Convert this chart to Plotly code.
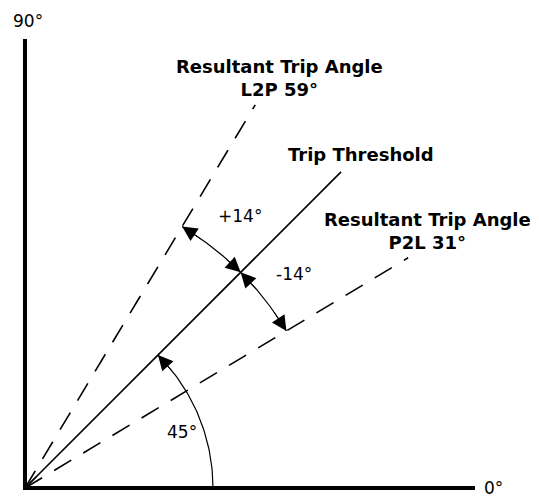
import numpy as np
import plotly.graph_objects as go

# ---- data ----
line_names = ["Resultant Trip Angle<br>L2P 59°", "Trip Threshold", "Resultant Trip Angle<br>P2L 31°"]
line_angles = [59, 45, 31]
threshold_angle = 45
offsets = [14, -14]
offset_labels = ["+14°", "-14°"]
base_label = "45°"
axis_tick_labels = ["0°", "90°"]

# ---- layout constants (pixel-like units, origin at axes corner) ----
R = 447
AXIS_LEN_X = 450
AXIS_LEN_Y = 449
R_BASE_ARC = 188
R_OFF_ARC = 305
FONT = "DejaVu Sans"
PAGE_OFF = 8  # browser body margin
FIG_W = 539 - PAGE_OFF
FIG_H = 498 - PAGE_OFF


def pol(r, deg):
    t = np.deg2rad(deg)
    return r * np.cos(t), r * np.sin(t)


fig = go.Figure()

# axes (thick L)
fig.add_trace(go.Scatter(x=[0, 0, AXIS_LEN_X], y=[AXIS_LEN_Y, 0, 0], mode="lines",
                         line=dict(color="black", width=4), hoverinfo="skip"))

# angle lines
for ang in line_angles:
    x1, y1 = pol(R, ang)
    dash = "solid" if ang == threshold_angle else "20px,14px"
    fig.add_trace(go.Scatter(x=[0, x1], y=[0, y1], mode="lines",
                             line=dict(color="black", width=1.6, dash=dash), hoverinfo="skip"))

annotations = []


def arrow(r, tip_deg, tail_deg):
    x, y = pol(r, tip_deg)
    ax, ay = pol(r, tail_deg)
    annotations.append(dict(x=x, y=y, ax=ax, ay=ay, xref="x", yref="y", axref="x", ayref="y",
                            text="", showarrow=True, arrowhead=2, arrowsize=3, arrowwidth=1,
                            arrowcolor="black", standoff=0, startstandoff=0))


# base 45° arc
th = np.linspace(0, threshold_angle, 60)
bx, by = pol(R_BASE_ARC, th)
fig.add_trace(go.Scatter(x=bx, y=by, mode="lines", line=dict(color="black", width=1.2), hoverinfo="skip"))
arrow(R_BASE_ARC, threshold_angle, threshold_angle - 7)

# offset arcs (double-headed)
for off in offsets:
    a0, a1 = threshold_angle, threshold_angle + off
    th = np.linspace(a0, a1, 60)
    ox, oy = pol(R_OFF_ARC, th)
    fig.add_trace(go.Scatter(x=ox, y=oy, mode="lines", line=dict(color="black", width=1.2), hoverinfo="skip"))
    s = np.sign(off)
    arrow(R_OFF_ARC, a1, a1 - s * 4.5)
    arrow(R_OFF_ARC, a0, a0 + s * 4.5)

# small arrowhead at origin on threshold line
ox, oy = pol(18, threshold_angle)
annotations.append(dict(x=0, y=0, ax=ox, ay=oy, xref="x", yref="y", axref="x", ayref="y",
                        text="", showarrow=True, arrowhead=1, arrowsize=1, arrowwidth=1.2,
                        arrowcolor="black", standoff=0))


def px(xp, yp):
    return xp - 25, 488 - yp


def label(text, xp, yp, bold=False):
    x, y = px(xp, yp)
    annotations.append(dict(x=x, y=y, xref="x", yref="y", showarrow=False,
                            text=f"<b>{text}</b>" if bold else text,
                            font=dict(family=FONT, size=18 if bold else 17, color="black"),
                            xanchor="center", yanchor="middle"))


label(line_names[0], 279, 78, bold=True)
label(line_names[1], 361, 154, bold=True)
label(line_names[2], 427, 231, bold=True)
label(offset_labels[0], 240, 216)
label(offset_labels[1], 294, 274)
label(base_label, 182, 432)
label(axis_tick_labels[0], 493, 488)
label(axis_tick_labels[1], 28, 21)

fig.update_layout(
    width=FIG_W, height=FIG_H, margin=dict(l=0, r=0, t=0, b=0),
    paper_bgcolor="white", plot_bgcolor="white", showlegend=False,
    xaxis=dict(range=[PAGE_OFF - 25, PAGE_OFF - 25 + FIG_W], visible=False, fixedrange=True),
    yaxis=dict(range=[488 - PAGE_OFF - FIG_H, 488 - PAGE_OFF], visible=False, fixedrange=True),
    annotations=annotations,
)

fig.write_html("out.html")
